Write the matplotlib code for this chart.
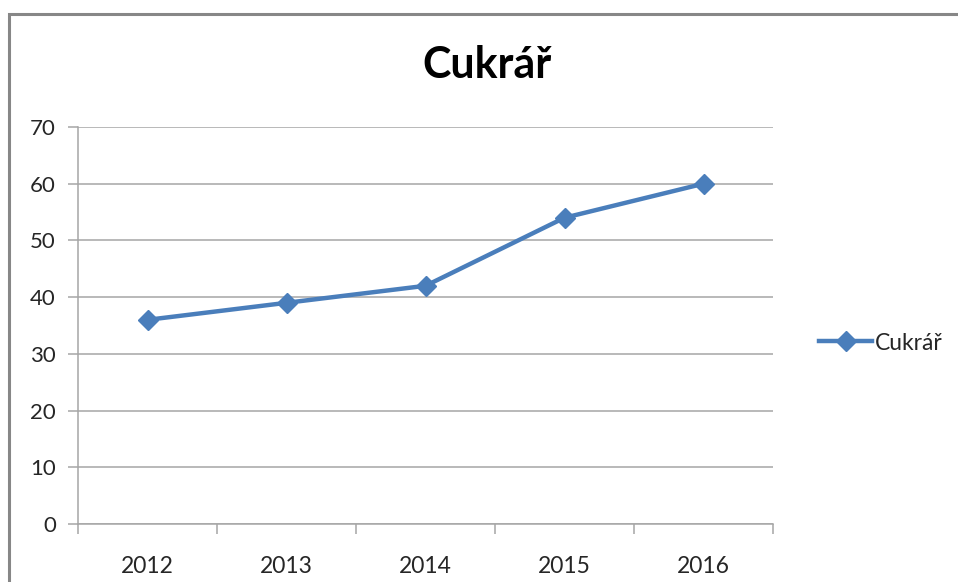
import matplotlib
matplotlib.use("Agg")
import matplotlib.pyplot as plt
from matplotlib.lines import Line2D
from matplotlib.ticker import FixedLocator, MultipleLocator

plt.rcParams['font.family'] = ['Lato', 'DejaVu Sans']

# Data
years = ['2012', '2013', '2014', '2015', '2016']
values = [36, 39, 42, 54, 60]
series_name = 'Cukrář'
title = 'Cukrář'

line_color = '#4A7EBB'
grid_color = '#A6A6A6'
text_color = '#262626'

fig = plt.figure(figsize=(9.58, 5.82), dpi=100)
ax = fig.add_axes([78 / 958, 58 / 582, (773 - 78) / 958, (524 - 127) / 582])

# Outer chart border: only top and left edges are visible in the screenshot
bx, by = 9 / 958, 1 - 14 / 582
fig.lines.append(Line2D([bx, bx, 1.05], [-0.05, by, by], transform=fig.transFigure,
                        color='#878787', linewidth=2.2, solid_joinstyle='miter'))

x = list(range(1, len(years) + 1))
ax.plot(x, values, color=line_color, linewidth=3.2, marker='D',
        markersize=10.5, label=series_name, zorder=3, clip_on=False)

ax.set_xlim(0.5, len(years) + 0.5)
ax.set_ylim(0, 70)
ax.yaxis.set_major_locator(MultipleLocator(10))
ax.grid(axis='y', color=grid_color, linewidth=1.1)
ax.set_axisbelow(True)

# Category ticks: labels centered, tick marks at boundaries
ax.xaxis.set_major_locator(FixedLocator(x))
ax.set_xticklabels(years)
ax.xaxis.set_minor_locator(FixedLocator([i + 0.5 for i in range(len(years) + 1)]))
ax.tick_params(axis='x', which='major', length=0, pad=23, labelsize=16.5, labelcolor=text_color)
ax.tick_params(axis='x', which='minor', length=7, width=1.1, color=grid_color, direction='out')
ax.tick_params(axis='y', which='major', length=7, width=1.1, color=grid_color,
               direction='out', pad=9, labelsize=16, labelcolor=text_color)

for side in ['top', 'right']:
    ax.spines[side].set_visible(False)
for side in ['left', 'bottom']:
    ax.spines[side].set_color(grid_color)
    ax.spines[side].set_linewidth(1.1)

fig.text(487 / 958, 1 - 65 / 582, title, ha='center', va='center',
         fontsize=31, fontweight='bold', color='black')

fig.legend(loc='center left', bbox_to_anchor=(810 / 958, 1 - 343 / 582),
           frameon=False, handlelength=2.3, handletextpad=0.15,
           fontsize=16.5, labelcolor=text_color, borderaxespad=0)

fig.savefig('out.png', dpi=100, facecolor='white')
